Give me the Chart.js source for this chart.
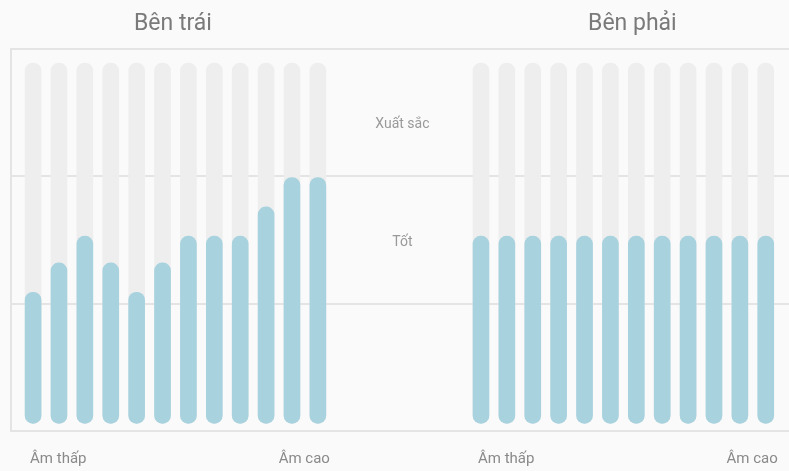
<!DOCTYPE html>
<html>
<head>
<meta charset="utf-8">
<script src="https://cdn.jsdelivr.net/npm/chart.js@4"></script>
<style>
  html, body { margin: 0; padding: 0; background: #fafafa; overflow: hidden; }
  #wrap { position: absolute; left: 0; top: 0; width: 820px; height: 471px; }
</style>
</head>
<body>
<div id="wrap"><canvas id="c"></canvas></div>
<script>
// ---- data ----
const sideTitles = ['Bên trái', 'Bên phải'];
const freqLabels = ['Âm thấp', 'Âm cao'];
const bandLabels = ['Tốt', 'Xuất sắc'];          // bands 1–2 and 2–3
const bandEdges = [0, 1, 2, 3];                   // level bands (y tick values)
const leftLevels  = [1.09, 1.32, 1.53, 1.32, 1.09, 1.32, 1.53, 1.53, 1.53, 1.76, 1.99, 1.99];
const rightLevels = [1.53, 1.53, 1.53, 1.53, 1.53, 1.53, 1.53, 1.53, 1.53, 1.53, 1.53, 1.53];
const levelFloor = 0.06;
const levelCeil = 2.89;

// ---- layout helpers (group offsets on the linear x scale) ----
const groupOffset = [0, 17.3];
function pts(levels, g) {
  return levels.map((v, i) => ({ x: groupOffset[g] + i, y: [levelFloor, v] }));
}
function bgPts(levels, g) {
  return levels.map((v, i) => ({ x: groupOffset[g] + i, y: [levelFloor, levelCeil] }));
}

const BLUE = '#a7d2de';
const GREY = '#eeeeee';
const LINE = '#e4e4e4';
const FONT = 'Roboto, "Noto Sans", sans-serif';

const labelPlugin = {
  id: 'labels',
  afterDraw(chart) {
    const { ctx, scales: { x, y } } = chart;
    ctx.save();
    ctx.textBaseline = 'middle';
    // titles
    ctx.fillStyle = '#7a7a7a';
    ctx.font = '23px ' + FONT;
    ctx.textAlign = 'center';
    const titleShift = [-2.5, 9];
    [leftLevels, rightLevels].forEach((lv, g) => {
      const cx = x.getPixelForValue(groupOffset[g] + (lv.length - 1) / 2) + titleShift[g];
      ctx.fillText(sideTitles[g], cx, 24);
    });
    // low / high labels
    ctx.font = '15px ' + FONT;
    ctx.fillStyle = '#8a8a8a';
    [leftLevels, rightLevels].forEach((lv, g) => {
      const x0 = x.getPixelForValue(groupOffset[g]);
      const x1 = x.getPixelForValue(groupOffset[g] + lv.length - 1);
      ctx.textAlign = 'left';
      ctx.fillText(freqLabels[0], x0 - 3, 459);
      ctx.textAlign = 'right';
      ctx.fillText(freqLabels[1], x1 + 12, 459);
    });
    // band labels in the gap
    ctx.font = '14px ' + FONT;
    ctx.fillStyle = '#999';
    ctx.textAlign = 'center';
    const gx = (x.getPixelForValue(leftLevels.length - 1) + x.getPixelForValue(groupOffset[1])) / 2 + 3;
    const bandY = [1.48, 2.41];
    bandLabels.forEach((t, i) => {
      ctx.fillText(t, gx, y.getPixelForValue(bandY[i]));
    });
    ctx.restore();
  }
};

const barCommon = {
  barThickness: 16,
  borderRadius: 8,
  borderSkipped: false,
  grouped: false,
  borderWidth: 0
};

new Chart(document.getElementById('c'), {
  type: 'bar',
  data: {
    datasets: [
      Object.assign({ data: pts(leftLevels, 0), backgroundColor: BLUE, order: 1 }, barCommon),
      Object.assign({ data: pts(rightLevels, 1), backgroundColor: BLUE, order: 1 }, barCommon),
      Object.assign({ data: bgPts(leftLevels, 0), backgroundColor: GREY, order: 2 }, barCommon),
      Object.assign({ data: bgPts(rightLevels, 1), backgroundColor: GREY, order: 2 }, barCommon)
    ]
  },
  options: {
    responsive: true,
    maintainAspectRatio: false,
    animation: false,
    layout: { padding: { left: 11, top: 49, right: 18, bottom: 40 } },
    plugins: { legend: { display: false }, tooltip: { enabled: false } },
    scales: {
      x: {
        type: 'linear',
        offset: false,
        min: -0.853,
        max: 29.7,
        ticks: { display: false },
        grid: { display: false, drawTicks: false, offset: false },
        border: { display: false }
      },
      y: {
        min: bandEdges[0],
        max: bandEdges[bandEdges.length - 1],
        afterBuildTicks(s) { s.ticks = bandEdges.map(v => ({ value: v })); },
        ticks: { display: false },
        grid: { color: LINE, lineWidth: 2, drawTicks: false },
        border: { display: true, color: LINE, width: 2 }
      }
    }
  },
  plugins: [labelPlugin]
});
</script>
</body>
</html>
